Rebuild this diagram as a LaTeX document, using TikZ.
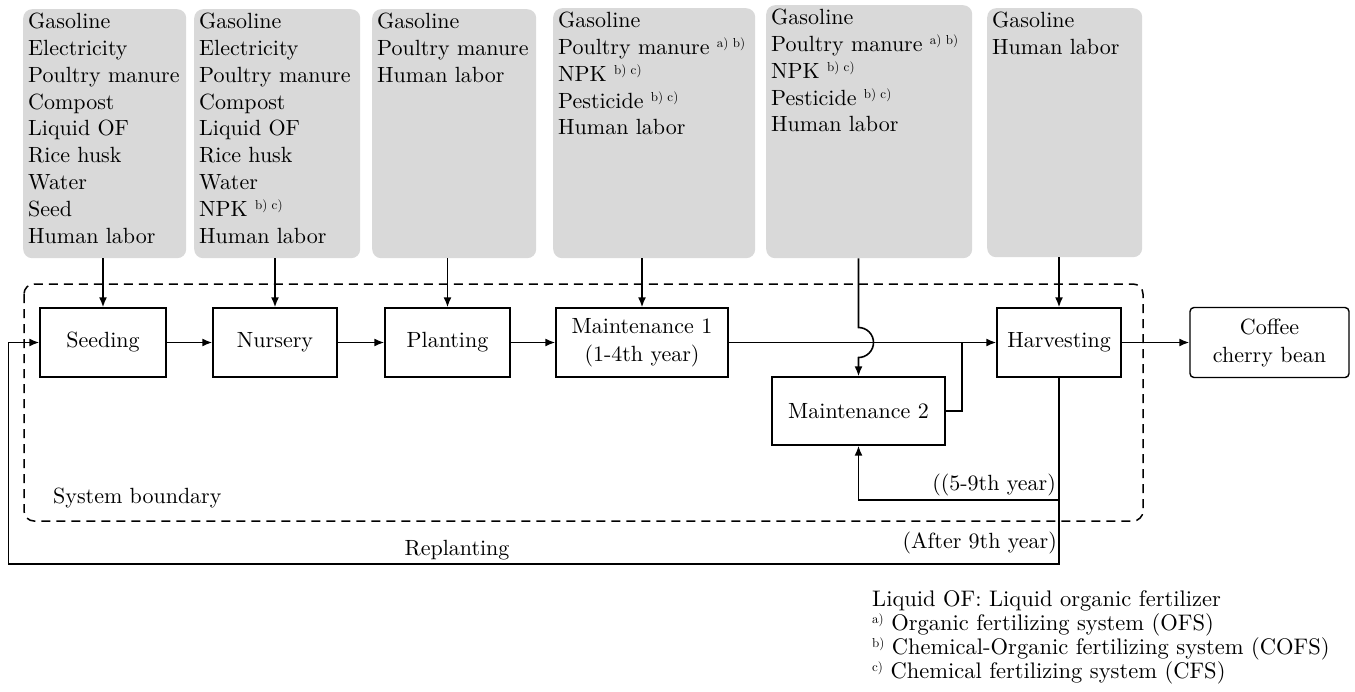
\documentclass[tikz,border=0pt]{standalone}
\usepackage{tikz}
\usetikzlibrary{positioning,arrows.meta}
\DeclareFontFamily{TU}{lmten}{}
\DeclareFontShape{TU}{lmten}{m}{n}{<-> "[lmroman10-regular]"}{}
\renewcommand{\rmdefault}{lmten}

\tikzstyle{proc}=[draw,line width=1.4pt,inner sep=0pt,minimum height=69pt,
  align=center,font=\fontsize{22}{28}\selectfont]
\tikzstyle{inputs}=[fill=black!15,rounded corners=9pt,anchor=north west,
  inner xsep=5pt,inner ysep=4pt,font=\fontsize{22}{26.8}\selectfont]
\tikzstyle{flow}=[line width=1.6pt]
\newcommand{\inlist}[3]{\parbox[t][#2][t]{#1}{#3}}
\newcommand{\refmark}[1]{\raisebox{7pt}{\fontsize{13}{13}\selectfont #1}}

\begin{document}
\begin{tikzpicture}[x=1pt, y=-1pt, on grid, >={Latex[length=10pt,width=8pt]}]
  \tikzstyle{lbl}=[inner sep=0pt, font=\fontsize{22}{26}\selectfont]
  \useasboundingbox (0,0) rectangle (1355,691);

  % input boxes
  \node[inputs] (in1) at (23,9) {\inlist{153pt}{241pt}{Gasoline\\Electricity\\
    Poultry manure\\Compost\\Liquid OF\\Rice husk\\Water\\Seed\\Human labor}};
  \node[inputs] (in2) at (194,9) {\inlist{156pt}{241pt}{Gasoline\\Electricity\\
    Poultry manure\\Compost\\Liquid OF\\Rice husk\\Water\\
    NPK~\refmark{b) c)}\\Human labor}};
  \node[inputs] (in3) at (372,9) {\inlist{154pt}{241pt}{Gasoline\\
    Poultry manure\\Human labor}};
  \node[inputs] (in4) at (553,8) {\inlist{192pt}{242pt}{Gasoline\\
    Poultry manure~\refmark{a) b)}\\NPK~\refmark{b) c)}\\
    Pesticide~\refmark{b) c)}\\Human labor}};
  \node[inputs] (in5) at (766,5) {\inlist{196pt}{245pt}{Gasoline\\
    Poultry manure~\refmark{a) b)}\\NPK~\refmark{b) c)}\\
    Pesticide~\refmark{b) c)}\\Human labor}};
  \node[inputs] (in6) at (987,8) {\inlist{145pt}{241pt}{Gasoline\\Human labor}};

  % system boundary
  \draw[line width=1.5pt, rounded corners=10pt, dash pattern=on 9pt off 6pt]
    (24,284) rectangle (1143,521);

  % process chain
  \node[proc, minimum width=126pt] (seed) at (103,342.5) {Seeding};
  \node[proc, minimum width=124pt, right=172pt of seed] (nurs) {Nursery};
  \node[proc, minimum width=125pt, right=172.5pt of nurs] (plant) {Planting};
  \node[proc, minimum width=172pt, right=194.5pt of plant] (m1)
    {Maintenance 1\\(1-4th year)};
  \node[proc, minimum width=173pt, minimum height=68pt] (m2) at (858.5,411)
    {Maintenance 2};
  \node[proc, minimum width=124pt] (harv) at (1059,342.5) {Harvesting};
  \node[proc, minimum width=159pt, minimum height=70pt, rounded corners=4pt,
    right=210.5pt of harv] (bean) {Coffee\\cherry bean};

  \draw[flow,->] (seed) -- (nurs);
  \draw[flow,->] (nurs) -- (plant);
  \draw[flow,->] (plant) -- (m1);
  \draw[flow,->] (m1) -- (harv);
  \draw[flow,->] (harv) -- (bean);

  \draw[flow,->] (in1.south -| seed.north) -- (seed);
  \draw[flow,->] (in2.south -| nurs.north) -- (nurs);
  \draw[flow,->] (in3.south -| plant.north) -- (plant);
  \draw[flow,->] (in4.south -| m1.north) -- (m1);
  \draw[flow,->] (in6.south -| harv.north) -- (harv);

  % jump over the main line
  \coordinate (hop) at (m2.north |- m1.east);
  \draw[flow,->] (in5.south -| m2.north) -- ([yshift=15pt]hop)
    arc[start angle=90, end angle=-90, radius=15pt] -- (m2);
  \draw[flow] (m2.east) -- ++(16,0) coordinate (join) -- (join |- m1.east);

  % loops back
  \draw[flow,->] (harv.south) -- ++(0,122) -| (m2.south);
  \draw[flow,->] (harv.south) -- ++(0,186) -| ([xshift=-31pt]seed.west)
    -- (seed.west);

  \node[lbl, anchor=base east] (late) at (1056,490) {((5-9th year)};
  \node[lbl, anchor=base east] (after) at (1057,548) {(After 9th year)};
  \node[lbl, anchor=base] (replant) at (457,555) {Replanting};
  \node[lbl, anchor=base west] (sysb) at (53,503) {System boundary};

  \node[lbl, anchor=north west, align=left, font=\fontsize{22.5}{24}\selectfont]
    (legend) at (872,590) {Liquid OF: Liquid organic fertilizer\\
    \refmark{a)} Organic fertilizing system (OFS)\\
    \refmark{b)} Chemical-Organic fertilizing system (COFS)\\
    \refmark{c)} Chemical fertilizing system (CFS)};
\end{tikzpicture}
\end{document}
